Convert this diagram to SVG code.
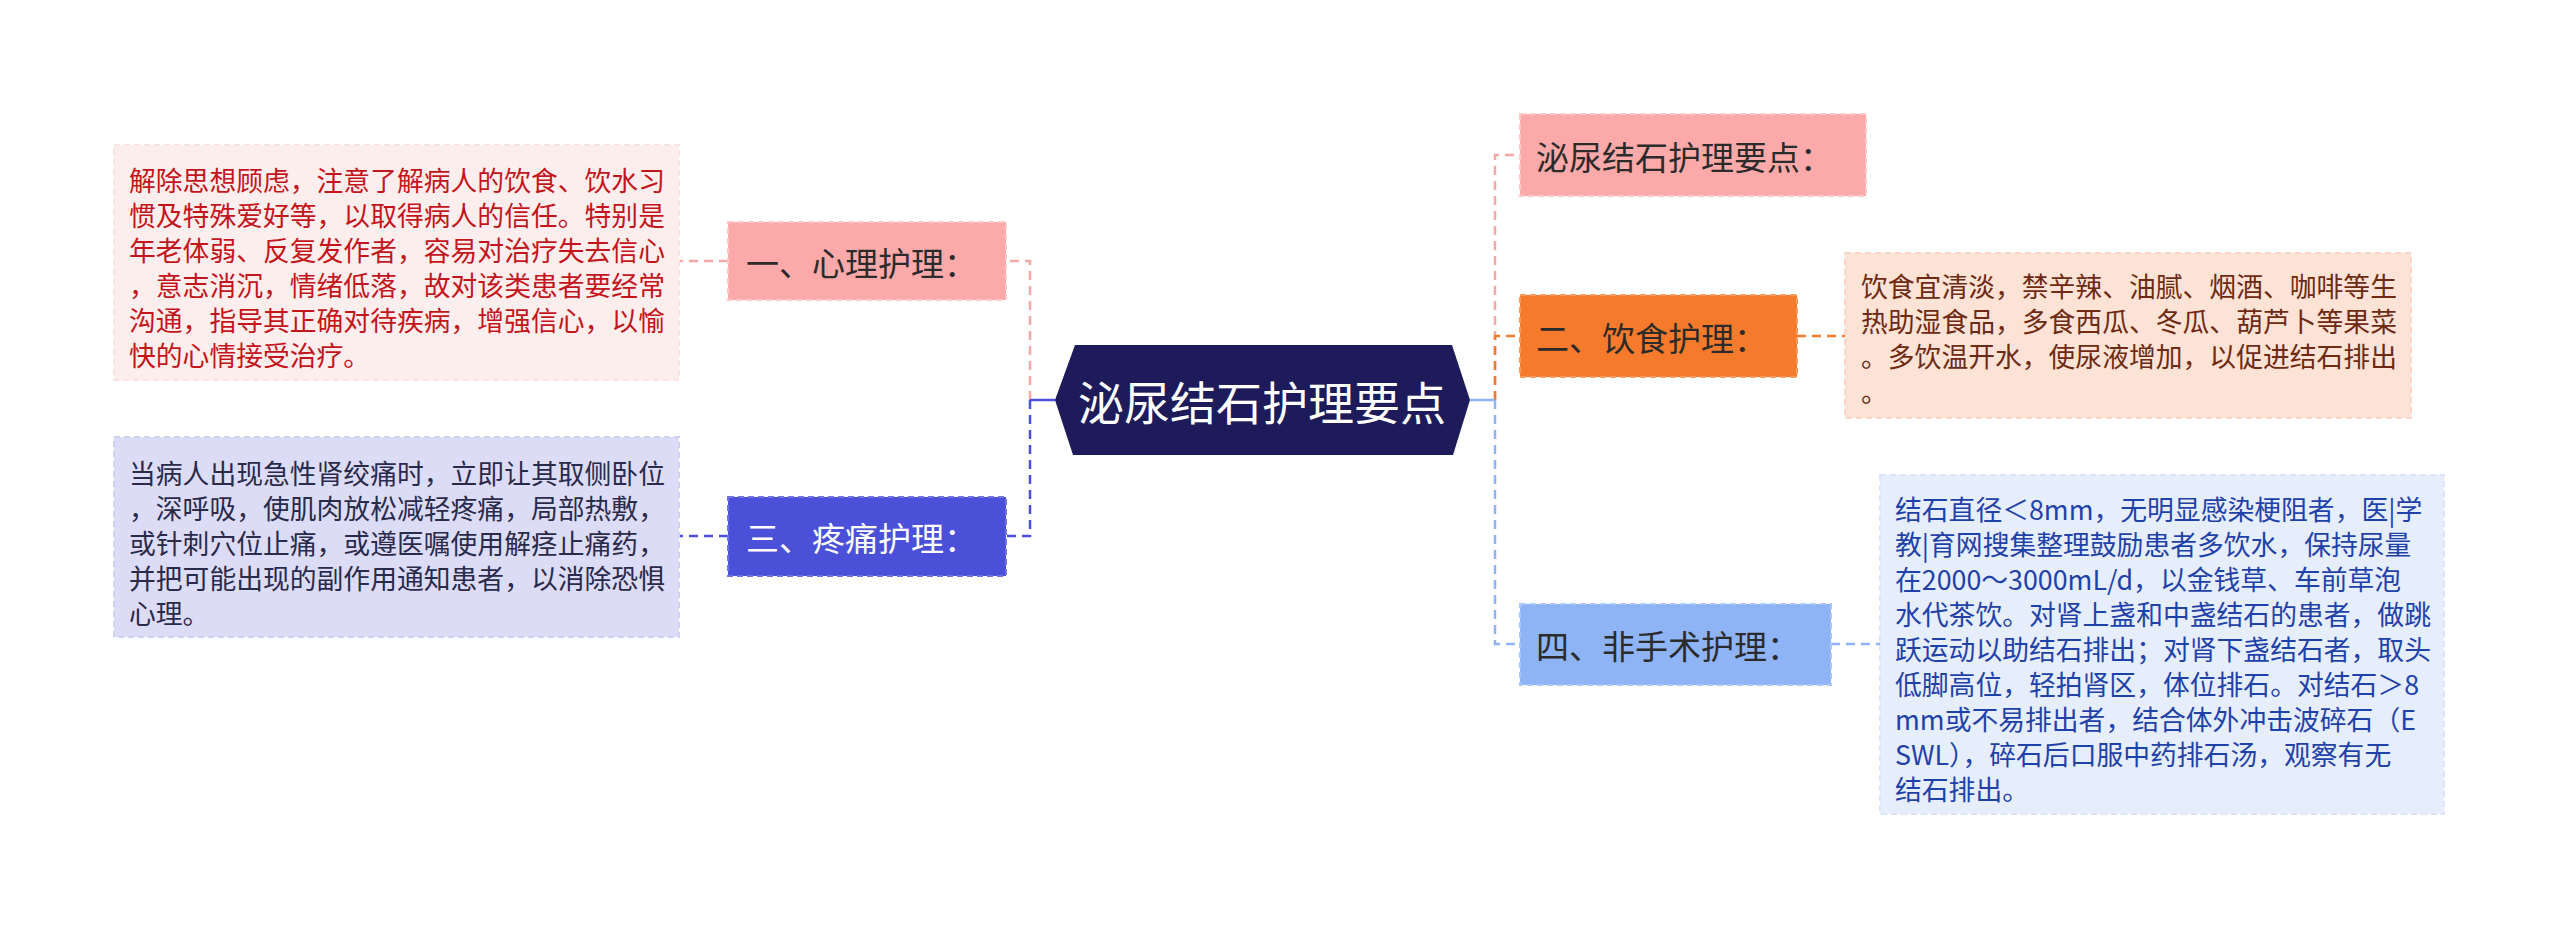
<svg xmlns="http://www.w3.org/2000/svg" width="2560" height="929" viewBox="0 0 2560 929">
<style>
text{font-family:"Noto Sans CJK SC","Noto Sans",sans-serif;dominant-baseline:central}
.desc{font-size:26.8px}
.nt{font-size:33px;fill:#2b2b2b}
.c{fill:none;stroke-width:2.5;stroke-dasharray:9 6}
.bd{stroke-width:2;stroke-dasharray:6 4}
</style>
<rect width="2560" height="929" fill="#ffffff"/>
<g id="connectors">
<path class="c" stroke="#f4a9a6" d="M1030 400 V261 H1006"/>
<path class="c" stroke="#4a50d8" d="M1030 400 V536 H1006"/>
<path d="M1030 400 H1055" stroke="#4a50d8" stroke-width="2.5"/>
<path class="c" stroke="#f4a9a6" d="M728 261 H679"/>
<path class="c" stroke="#4a50d8" d="M728 536 H679"/>
<path class="c" stroke="#f4a9a6" d="M1495 400 V155 H1520"/>
<path class="c" stroke="#8fb4f5" d="M1495 400 V644 H1520"/>
<path class="c" stroke="#f47a2c" d="M1495 400 V336 H1520"/>
<path d="M1470 400 H1495" stroke="#8fb4f5" stroke-width="2.5"/>
<path class="c" stroke="#f47a2c" d="M1797 336 H1845"/>
<path class="c" stroke="#8fb4f5" d="M1831 644 H1880"/>
</g>
<g id="root">
<polygon points="1055,400 1075,345 1452,345 1470,400 1453,455 1073,455" fill="#1d1b5a"/>
<text x="1262" y="400" font-size="46" fill="#ffffff" text-anchor="middle">泌尿结石护理要点</text>
</g>
<g id="n1">
<rect class="bd" x="728" y="222" width="278" height="78" fill="#fbaaa9" stroke="#fdc9c8"/>
<text class="nt" x="746" y="262">一、心理护理：</text>
</g>
<g id="n1d">
<rect class="bd" x="114" y="145" width="565" height="235" fill="#fdeeee" stroke="#fbe3e3"/>
<g class="desc" fill="#c3151b">
<text x="129" y="179">解除思想顾虑，注意了解病人的饮食、饮水习</text>
<text x="129" y="214">惯及特殊爱好等，以取得病人的信任。特别是</text>
<text x="129" y="249">年老体弱、反复发作者，容易对治疗失去信心</text>
<text x="129" y="284">，意志消沉，情绪低落，故对该类患者要经常</text>
<text x="129" y="319">沟通，指导其正确对待疾病，增强信心，以愉</text>
<text x="129" y="354">快的心情接受治疗。</text>
</g>
</g>
<g id="n3">
<rect class="bd" x="728" y="497" width="278" height="79" fill="#4a50d8" stroke="#6f74e2"/>
<text class="nt" x="746" y="537" style="fill:#ffffff">三、疼痛护理：</text>
</g>
<g id="n3d">
<rect class="bd" x="114" y="437" width="565" height="200" fill="#dcdcf6" stroke="#d0d0f0"/>
<g class="desc" fill="#2a2a4a">
<text x="129" y="472">当病人出现急性肾绞痛时，立即让其取侧卧位</text>
<text x="129" y="507">，深呼吸，使肌肉放松减轻疼痛，局部热敷，</text>
<text x="129" y="542">或针刺穴位止痛，或遵医嘱使用解痉止痛药，</text>
<text x="129" y="577">并把可能出现的副作用通知患者，以消除恐惧</text>
<text x="129" y="612">心理。</text>
</g>
</g>
<g id="n0">
<rect class="bd" x="1520" y="114" width="346" height="82" fill="#fbaaa9" stroke="#fdc9c8"/>
<text class="nt" x="1536" y="156">泌尿结石护理要点：</text>
</g>
<g id="n2">
<rect class="bd" x="1520" y="295" width="277" height="82" fill="#f67a2c" stroke="#f99a5e"/>
<text class="nt" x="1536" y="337">二、饮食护理：</text>
</g>
<g id="n2d">
<rect class="bd" x="1845" y="253" width="566" height="165" fill="#fde3d6" stroke="#fcd6c4"/>
<g class="desc" fill="#6e2a12">
<text x="1861" y="285">饮食宜清淡，禁辛辣、油腻、烟酒、咖啡等生</text>
<text x="1861" y="320">热助湿食品，多食西瓜、冬瓜、葫芦卜等果菜</text>
<text x="1861" y="355">。多饮温开水，使尿液增加，以促进结石排出</text>
<text x="1861" y="390">。</text>
</g>
</g>
<g id="n4">
<rect class="bd" x="1520" y="604" width="311" height="81" fill="#8fb4f5" stroke="#abc7f8"/>
<text class="nt" x="1536" y="645">四、非手术护理：</text>
</g>
<g id="n4d">
<rect class="bd" x="1880" y="475" width="564" height="339" fill="#e6edfb" stroke="#dbe4f8"/>
<g class="desc" fill="#1f42a8">
<text x="1895" y="508">结石直径＜8mm，无明显感染梗阻者，医|学</text>
<text x="1895" y="543">教|育网搜集整理鼓励患者多饮水，保持尿量</text>
<text x="1895" y="578">在2000～3000mL/d，以金钱草、车前草泡</text>
<text x="1895" y="613">水代茶饮。对肾上盏和中盏结石的患者，做跳</text>
<text x="1895" y="648">跃运动以助结石排出；对肾下盏结石者，取头</text>
<text x="1895" y="683">低脚高位，轻拍肾区，体位排石。对结石＞8</text>
<text x="1895" y="718">mm或不易排出者，结合体外冲击波碎石（E</text>
<text x="1895" y="753">SWL），碎石后口服中药排石汤，观察有无</text>
<text x="1895" y="788">结石排出。</text>
</g>
</g>
</svg>
